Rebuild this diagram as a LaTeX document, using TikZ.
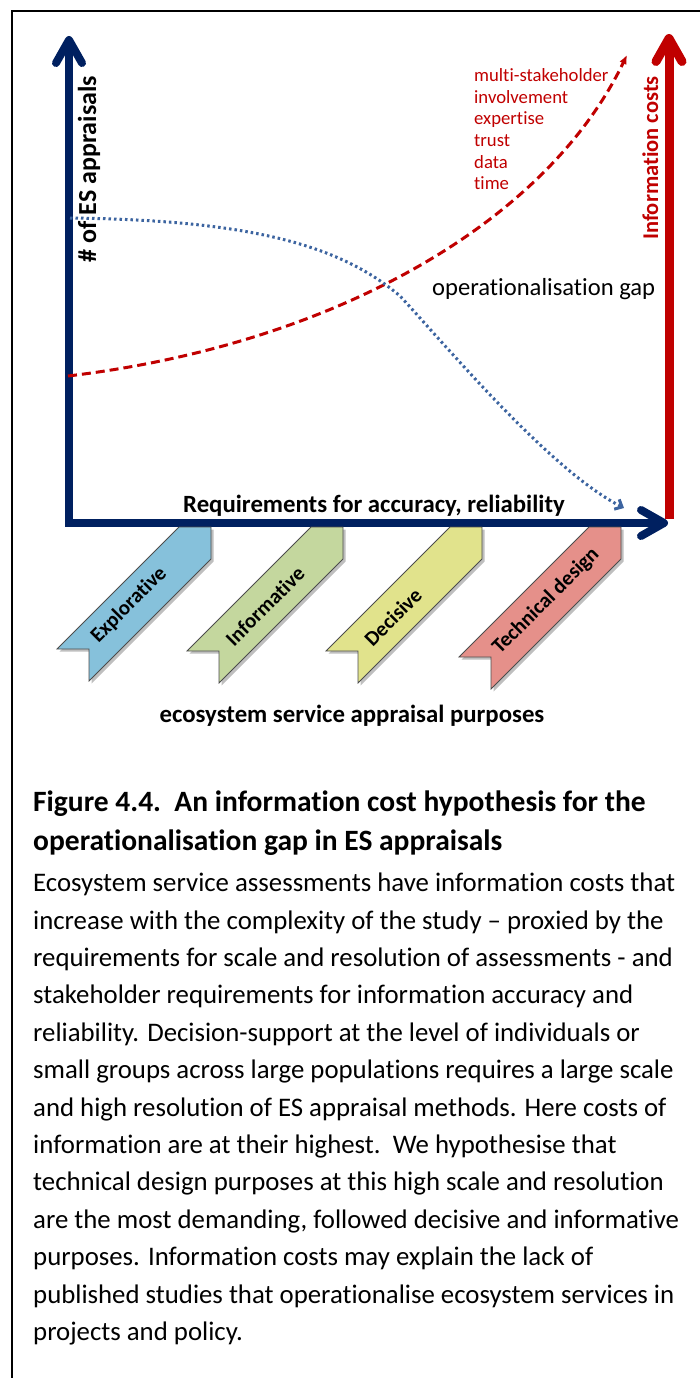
\documentclass[tikz,border=0pt]{standalone}
\usepackage{fontspec}
\setmainfont{Carlito}[Ligatures={TeX,NoCommon}]
\usetikzlibrary{arrows.meta,positioning}
\definecolor{axisblue}{HTML}{002060}
\definecolor{costred}{HTML}{C00000}
\definecolor{gapblue}{RGB}{60,100,160}
\definecolor{exploreblue}{RGB}{134,193,219}
\definecolor{informgreen}{RGB}{196,215,158}
\definecolor{decideyellow}{RGB}{225,227,140}
\definecolor{techred}{RGB}{229,144,138}

\begin{document}
\begin{tikzpicture}[x=1pt,y=-1pt,>={Straight Barb[length=23pt,width=26pt,round]},
  axis/.style={line width=8pt,color=axisblue},
  axis label/.style={font=\fontsize{24.8}{24.8}\selectfont\bfseries,inner sep=0pt},
  cost item/.style={anchor=base west,text=costred,font=\fontsize{18.7}{18.7}\selectfont,inner sep=0pt},
  ribbon/.style={draw=black!70,line width=0.8pt},
  ribbon shadow/.style={fill=black!25,draw=none},
  ribbon label/.style={font=\fontsize{21}{21}\selectfont\bfseries,rotate=45,inner sep=0pt},
  caption title/.style={anchor=base west,font=\fontsize{29.5}{29.5}\selectfont\bfseries,inner sep=0pt},
  caption line/.style={anchor=base west,font=\fontsize{26.8}{26.8}\selectfont,inner sep=0pt}]
  \useasboundingbox (0,0) rectangle (700,1378);
  \draw[line width=2pt] (12,1378) -- (12,11) -- (700,11);

  \coordinate (ytop) at (69,36);
  \coordinate (origin) at (69,523);
  \coordinate (xend) at (668,523);
  \coordinate (cbottom) at (669,519);
  \coordinate (ctop) at (669,34);
  \draw[axis,<->] (ytop) -- (origin) -- (xend);
  \draw[axis,->,color=costred,line width=9pt] (cbottom) -- (ctop);

  \node[axis label,rotate=90,anchor=base,font=\fontsize{26}{26}\selectfont\bfseries] (ylabel) at (96,169) {\# of ES appraisals};
  \node[axis label,rotate=90,anchor=base,text=costred,font=\fontsize{22.5}{22.5}\selectfont\bfseries] (clabel) at (658,158) {Information costs};
  \node[axis label,anchor=base] (xlabel) at (374,512) {Requirements for accuracy, reliability};

  \coordinate (cost start) at (68,376);
  \coordinate (cost end) at (627,55);
  \draw[costred,line width=3pt,dash pattern=on 9pt off 5pt,-{Latex[length=9pt,width=8pt]}]
    (cost start) .. controls (330,345) and (545,225) .. (cost end);
  \coordinate (gap start) at (70,218);
  \coordinate (gap bend) at (400,296);
  \coordinate (gap end) at (624,508);
  \draw[gapblue,line width=3pt,dash pattern=on 2.5pt off 3pt,-{Straight Barb[length=6pt,width=11pt]}]
    (gap start) .. controls (250,220) and (340,245) .. (gap bend)
    .. controls (450,350) and (550,470) .. (gap end);
  \node[anchor=base west,font=\fontsize{24.6}{24.6}\selectfont,inner sep=0pt] (gap) at (432,295) {operationalisation gap};

  \foreach \w [count=\i] in {multi-stakeholder,involvement,expertise,trust,data,time}
    \node[cost item] (cost-\i) at (474,{60+21.6*\i}) {\w};

  \foreach \rx/\rl/\col/\nm/\txt/\tx/\ty in {211/122/exploreblue/explore/Explorative/-82/78,
      343/124/informgreen/inform/Informative/-78/79,
      482/124/decideyellow/decide/Decisive/-89/90,
      621/130/techred/tech/Technical design/-75/74}
  {
    \begin{scope}[shift={(\rx,527)}]
      \fill[ribbon shadow,shift={(2.5,2.5)}] (-32,0) -- (0,0) -- (0,32) -- ++(-\rl,\rl) -- ++(0,-32) -- ++(-32,0) -- cycle;
      \draw[ribbon,fill=\col] (-32,0) -- (0,0) -- (0,32) -- ++(-\rl,\rl) -- ++(0,-32) -- ++(-32,0) -- cycle;
      \node[ribbon label] (rib-\nm) at (\tx,\ty) {\txt};
    \end{scope}
  }
  \node[axis label,anchor=base] (purposes) at (352,722) {ecosystem service appraisal purposes};

  \node[caption title] (title-1) at (33,811.7) {Figure 4.4.~~An information cost hypothesis for the};
  \node[caption title] (title-2) at (33,850) {operationalisation gap in ES appraisals};
  \foreach \t [count=\i] in {{Ecosystem service assessments have information costs that},
      {increase with the complexity of the study – proxied by the},
      {requirements for scale and resolution of assessments - and},
      {stakeholder requirements for information accuracy and},
      {reliability. Decision-support at the level of individuals or},
      {small groups across large populations requires a large scale},
      {and high resolution of ES appraisal methods. Here costs of},
      {information are at their highest.~~We hypothesise that},
      {technical design purposes at this high scale and resolution},
      {are the most demanding, followed decisive and informative},
      {purposes. Information costs may explain the lack of},
      {published studies that operationalise ecosystem services in},
      {projects and policy.}}
    \node[caption line] (body-\i) at (33,{891.7+37.4*(\i-1)}) {\t};
\end{tikzpicture}
\end{document}
